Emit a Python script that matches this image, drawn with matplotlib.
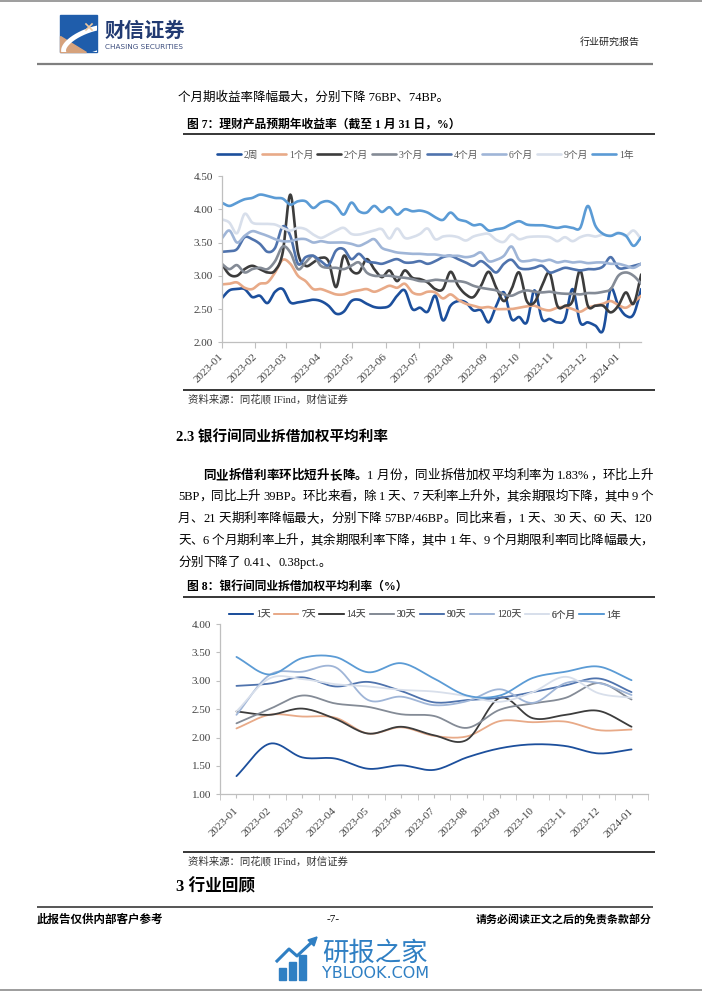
import numpy as np
import pandas as pd
import matplotlib
matplotlib.use('Agg')
import matplotlib.pyplot as plt
import matplotlib.dates as mdates
from matplotlib.ticker import FormatStrFormatter
from matplotlib.font_manager import FontProperties
from matplotlib.patches import Rectangle, Polygon

W, H = 702, 991
SERIF = ['Liberation Serif', 'Noto Sans CJK SC']
SANS = ['Noto Sans CJK SC', 'DejaVu Sans']
plt.rcParams['font.family'] = SERIF

# ---- figure 7: weekly wealth-product yields (%) ----
weeks = pd.date_range('2023-01-06', periods=56, freq='7D')
names7 = ['2周', '1个月', '2个月', '3个月', '4个月', '6个月', '9个月', '1年']
w2 = [2.66, 2.78, 2.80, 2.80, 2.68, 2.70, 2.59, 2.76, 2.80, 2.60, 2.60, 2.62, 2.64, 2.62, 2.55, 2.43,
      2.46, 2.62, 2.64, 2.58, 2.53, 2.52, 2.55, 2.70, 2.78, 2.50, 2.52, 2.46, 2.70, 2.33, 2.55, 2.62,
      2.60, 2.48, 2.48, 2.30, 2.55, 2.75, 2.35, 2.38, 2.30, 2.78, 2.35, 2.35, 2.30, 2.35, 2.80, 2.30,
      2.30, 2.25, 2.18, 2.80, 2.55, 2.40, 2.42, 2.80]
m1 = [2.87, 2.88, 2.90, 2.82, 2.80, 2.88, 2.90, 3.05, 3.24, 3.18, 3.00, 2.92, 2.80, 2.80, 2.76, 2.72,
      2.72, 2.76, 2.78, 2.80, 2.76, 2.80, 2.85, 2.82, 2.88, 2.75, 2.72, 2.76, 2.75, 2.66, 2.72, 2.64,
      2.58, 2.55, 2.52, 2.53, 2.50, 2.50, 2.50, 2.52, 2.54, 2.55, 2.50, 2.48, 2.52, 2.53, 2.50, 2.46,
      2.52, 2.55, 2.58, 2.62, 2.56, 2.52, 2.60, 2.70]
m2 = [3.18, 3.02, 3.00, 3.10, 3.15, 3.10, 3.05, 3.08, 3.35, 4.22, 3.35, 3.15, 3.20, 3.27, 3.22, 2.83,
      3.30, 3.08, 3.05, 3.25, 3.10, 2.98, 3.08, 2.92, 3.08, 2.97, 2.95, 2.90, 2.80, 2.80, 3.06, 2.85,
      2.72, 2.68, 2.85, 3.06, 2.82, 2.62, 2.80, 3.05, 2.62, 2.60, 2.85, 3.04, 2.55, 2.55, 2.62, 3.08,
      2.55, 2.55, 2.55, 2.45, 2.55, 2.75, 2.58, 3.02]
m3 = [3.18, 3.10, 3.16, 3.05, 3.10, 3.12, 3.10, 3.22, 3.44, 3.35, 3.10, 3.20, 3.30, 3.15, 3.12, 3.12,
      3.10, 3.15, 3.20, 3.05, 3.00, 3.00, 3.00, 2.98, 2.97, 2.95, 2.92, 2.92, 2.94, 2.93, 2.92, 2.92,
      2.90, 2.85, 2.82, 2.80, 2.78, 2.72, 2.70, 2.75, 2.78, 2.76, 2.75, 2.76, 2.74, 2.73, 2.73, 2.72,
      2.74, 2.74, 2.76, 2.80, 3.00, 3.05, 3.00, 2.88]
m4 = [3.36, 3.37, 3.40, 3.58, 3.55, 3.48, 3.36, 3.42, 3.74, 3.60, 3.18, 3.28, 3.30, 3.22, 3.16, 3.38,
      3.40, 3.25, 3.33, 3.22, 3.20, 3.18, 3.22, 3.25, 3.20, 3.20, 3.22, 3.18, 3.22, 3.28, 3.30, 3.25,
      3.20, 3.15, 3.22, 3.14, 3.05, 3.18, 3.24, 3.12, 3.10, 3.12, 3.15, 3.05, 3.08, 3.12, 3.10, 3.08,
      3.10, 3.10, 3.14, 3.28, 3.12, 3.12, 3.15, 3.18]
m6 = [3.56, 3.68, 3.50, 3.60, 3.67, 3.64, 3.60, 3.55, 3.52, 3.52, 3.55, 3.55, 3.50, 3.52, 3.50, 3.50,
      3.50, 3.48, 3.45, 3.50, 3.55, 3.42, 3.38, 3.35, 3.34, 3.33, 3.33, 3.32, 3.32, 3.30, 3.30, 3.30,
      3.28, 3.30, 3.35, 3.22, 3.24, 3.30, 3.44, 3.24, 3.22, 3.24, 3.22, 3.24, 3.20, 3.22, 3.20, 3.21,
      3.19, 3.20, 3.20, 3.18, 3.18, 3.15, 3.12, 3.18]
m9 = [3.85, 3.80, 3.64, 3.93, 3.80, 3.78, 3.78, 3.77, 3.72, 3.68, 3.72, 3.70, 3.62, 3.57, 3.62, 3.68,
      3.72, 3.63, 3.62, 3.65, 3.68, 3.70, 3.56, 3.71, 3.57, 3.58, 3.63, 3.71, 3.55, 3.59, 3.60, 3.58,
      3.53, 3.59, 3.62, 3.63, 3.54, 3.51, 3.62, 3.55, 3.58, 3.59, 3.59, 3.58, 3.52, 3.58, 3.52, 3.58,
      3.61, 3.59, 3.62, 3.60, 3.65, 3.60, 3.68, 3.55]
y1 = [4.10, 4.05, 4.10, 4.15, 4.17, 4.22, 4.20, 4.17, 4.16, 4.07, 4.12, 4.12, 4.02, 4.10, 4.12, 4.05,
      3.92, 4.10, 3.97, 3.95, 4.05, 3.96, 4.03, 3.92, 4.00, 3.97, 3.98, 3.95, 3.88, 3.84, 3.95, 3.85,
      3.82, 3.76, 3.77, 3.68, 3.70, 3.72, 3.78, 3.82, 3.77, 3.76, 3.76, 3.74, 3.72, 3.74, 3.72, 3.72,
      4.05, 3.75, 3.63, 3.60, 3.64, 3.60, 3.45, 3.58]

# ---- figure 8: monthly interbank weighted rates (%) ----
months8 = ['2023-01', '2023-02', '2023-03', '2023-04', '2023-05', '2023-06', '2023-07',
           '2023-08', '2023-09', '2023-10', '2023-11', '2023-12', '2024-01']
names8 = ['1天', '7天', '14天', '30天', '90天', '120天', '6个月', '1年']
d1 = [1.32, 1.89, 1.65, 1.63, 1.45, 1.51, 1.43, 1.65, 1.81, 1.88, 1.85, 1.72, 1.79]
d7 = [2.16, 2.40, 2.37, 2.35, 2.07, 2.18, 2.03, 2.02, 2.29, 2.27, 2.28, 2.13, 2.14]
d14 = [2.46, 2.40, 2.51, 2.33, 2.07, 2.19, 2.04, 1.96, 2.70, 2.34, 2.40, 2.47, 2.19]
d30 = [2.25, 2.50, 2.74, 2.60, 2.54, 2.41, 2.38, 2.17, 2.49, 2.60, 2.70, 2.96, 2.67]
d90 = [2.91, 2.95, 3.06, 2.90, 2.98, 2.82, 2.62, 2.66, 2.70, 2.80, 2.92, 3.04, 2.80]
d120 = [2.40, 3.10, 3.16, 3.24, 2.66, 2.72, 2.57, 2.64, 2.85, 2.61, 2.96, 2.96, 2.75]
d6m = [2.46, 3.04, 3.03, 2.94, 2.90, 2.84, 2.81, 2.73, 2.63, 2.80, 3.07, 2.78, 2.70]
d1y = [3.42, 3.11, 3.40, 3.42, 3.15, 3.31, 3.04, 2.74, 2.74, 3.05, 3.16, 3.25, 3.01]

colors = ['#1c4f9c', '#e8aa88', '#3c3c3c', '#848b96', '#4f73ad', '#9fb5d7', '#d8dfeb', '#5b9bd5']


def smooth(x, y, k=14):
    # catmull-rom, close to excel's "smoothed line"
    x = np.asarray(x, float)
    y = np.asarray(y, float)
    out = []
    for a in (x, y):
        p = np.r_[2 * a[0] - a[1], a, 2 * a[-1] - a[-2]]
        p0, p1, p2, p3 = p[:-3], p[1:-2], p[2:-1], p[3:]
        t = np.linspace(0, 1, k, endpoint=False)[:, None]
        q = 0.5 * (2 * p1 + (p2 - p0) * t + (2 * p0 - 5 * p1 + 4 * p2 - p3) * t ** 2
                   + (3 * p1 - p0 - 3 * p2 + p3) * t ** 3)
        out.append(np.r_[q.T.ravel(), a[-1]])
    return out


fig = plt.figure(figsize=(W / 100, H / 100), dpi=100)
page = fig.add_axes([0, 0, 1, 1])
page.set_xlim(0, W)
page.set_ylim(H, 0)
page.axis('off')
rend = fig.canvas.get_renderer()


def txt(x, y, s, size, ha='left', weight='normal', color='black', fam=SERIF):
    page.text(x, y, s, fontsize=size, ha=ha, va='center', fontweight=weight, color=color, family=fam)


def rule(y, x0, x1, lw=1.0, color='black'):
    page.plot([x0, x1], [y, y], color=color, lw=lw, solid_capstyle='butt')


def tokens(s):
    out, run = [], ''
    for ch in s:
        if ord(ch) < 128 and ch != ' ':
            run += ch
        else:
            if run:
                out.append(run)
                run = ''
            out.append(ch)
    if run:
        out.append(run)
    return out


def para_line(y, x0, x1, parts, size=9, justify=True):
    toks = []
    for s, w in parts:
        fp = FontProperties(family=SERIF, size=size, weight=w)
        for t in tokens(s):
            if t == ' ':
                wd = size * 0.25 * 100 / 72
            else:
                wd = rend.get_text_width_height_descent(t, fp, ismath=False)[0]
            toks.append((t, w, wd))
    gap = (x1 - x0 - sum(t[2] for t in toks)) / (len(toks) - 1) if justify else 0
    x = x0
    for t, w, wd in toks:
        if t != ' ':
            page.text(x, y, t, fontsize=size, fontweight=w, family=SERIF, va='center', ha='left')
        x += wd + gap


# ---- page header ----
rule(0.6, 0, W, lw=1.2, color='#8c8c8c')
logo = Rectangle((60, 15), 37, 37, color='#1f5dab')
page.add_patch(logo)
tan = Polygon([[60, 36], [60, 52], [86, 52]], color='#d6a27c')
page.add_patch(tan)
th = np.linspace(0, 2 * np.pi, 200)
ex = 92 + 30 * np.cos(th) * np.cos(-0.35) - 12 * np.sin(th) * np.sin(-0.35)
ey = 42 + 30 * np.cos(th) * np.sin(-0.35) + 12 * np.sin(th) * np.cos(-0.35)
sw, = page.plot(ex, ey, color='white', lw=3.5)
sw.set_clip_path(logo)
page.plot([86, 92], [24, 30], color='#f0c9a0', lw=1.2)
page.plot([86, 92], [30, 24], color='#f0c9a0', lw=1.2)
txt(105, 30, '财信证券', 14.5, weight='bold', color='#213a72', fam=SANS)
txt(105, 47, 'CHASING SECURITIES', 5.2, color='#3b4c7c', fam=['DejaVu Sans'])
txt(640, 42, '行业研究报告', 7.2, ha='right', color='#222222')
rule(64, 37, 653, lw=1.6, color='#7f7f7f')

txt(178, 97, '个月期收益率降幅最大，分别下降 76BP、74BP。', 9)

# ---- figure 7 ----
txt(187, 125, '图 7：理财产品预期年收益率（截至 1 月 31 日，%）', 8.5, weight='bold')
rule(134, 183, 655, lw=1.1)

ax1 = fig.add_axes([221.7 / W, 1 - 342.3 / H, 419.5 / W, 166.3 / H])
xs = mdates.date2num(weeks)
for vals, name, col in zip([w2, m1, m2, m3, m4, m6, m9, y1], names7, colors):
    sx, sy = smooth(xs, vals)
    ax1.plot(sx, sy, color=col, lw=1.9, label=name, solid_capstyle='round')
ax1.set_xlim(xs[0], xs[-1])
ax1.set_ylim(2, 4.5)
ax1.set_yticks(np.arange(2, 4.51, 0.5))
ax1.yaxis.set_major_formatter(FormatStrFormatter('%.2f'))
mticks = [weeks[0] + pd.DateOffset(months=m) for m in range(13)]
ax1.set_xticks(mdates.date2num(mticks))
ax1.set_xticklabels([d.strftime('%Y-%m') for d in mticks], rotation=45, ha='right',
                    va='center', rotation_mode='anchor')

ax2 = fig.add_axes([220 / W, 1 - 794.3 / H, 428 / W, 170.3 / H])
for vals, name, col in zip([d1, d7, d14, d30, d90, d120, d6m, d1y], names8, colors):
    sx, sy = smooth(np.arange(len(months8)), vals)
    ax2.plot(sx, sy, color=col, lw=1.3, label=name, solid_capstyle='round')
ax2.set_xlim(-0.5, len(months8) - 0.5)
ax2.set_ylim(1, 4)
ax2.set_yticks(np.arange(1, 4.01, 0.5))
ax2.yaxis.set_major_formatter(FormatStrFormatter('%.2f'))
ax2.set_xticks(np.arange(len(months8)))
ax2.set_xticklabels(months8, rotation=45, ha='right', va='center', rotation_mode='anchor')
ax2.set_xticks(np.arange(-0.5, len(months8)), minor=True)
ax2.tick_params(axis='x', which='major', length=0, pad=8)
ax2.tick_params(axis='x', which='minor', length=4, color='#bfbfbf')

for ax in (ax1, ax2):
    ax.patch.set_alpha(0)
    for s in ('top', 'right'):
        ax.spines[s].set_visible(False)
    for s in ('left', 'bottom'):
        ax.spines[s].set_color('#bfbfbf')
        ax.spines[s].set_linewidth(0.9)
    ax.tick_params(labelsize=8, labelcolor='#404040', color='#bfbfbf', length=3)
ax1.tick_params(axis='x', length=4, pad=5)

legfont = FontProperties(family=SERIF, size=7)
for ax, ly, lw in ((ax1, 155, 1.9), (ax2, 615, 1.3)):
    h, l = ax.get_legend_handles_labels()
    lg = page.legend(h, l, loc='center', bbox_to_anchor=(425, ly), bbox_transform=page.transData,
                     ncol=8, frameon=False, prop=legfont, handlelength=2.5, handletextpad=0.3,
                     columnspacing=0.35, borderpad=0)
    for t in lg.get_texts():
        t.set_color('#595959')
    page.add_artist(lg)

rule(390, 183, 655, lw=1.1)
txt(188, 399, '资料来源：同花顺 IFind，财信证券', 7.5, color='#333333')

# ---- section 2.3 ----
txt(176, 437, '2.3 银行间同业拆借加权平均利率', 10.5, weight='bold')
para_line(476, 203, 653, [('同业拆借利率环比短升长降。', 'bold'),
                          ('1 月份，同业拆借加权平均利率为 1.83%，环比上升', 'normal')])
para_line(497, 178, 653, [('5BP，同比上升 39BP。环比来看，除 1 天、7 天利率上升外，其余期限均下降，其中 9 个', 'normal')])
para_line(519, 178, 653, [('月、21 天期利率降幅最大，分别下降 57BP/46BP。同比来看，1 天、30 天、60 天、120', 'normal')])
para_line(541, 178, 653, [('天、6 个月期利率上升，其余期限利率下降，其中 1 年、9 个月期限利率同比降幅最大，', 'normal')])
para_line(563, 178, 653, [('分别下降了 0.41、0.38pct.。', 'normal')], justify=False)

# ---- figure 8 ----
txt(187, 587, '图 8：银行间同业拆借加权平均利率（%）', 8.5, weight='bold')
rule(597, 183, 655, lw=1.1)
rule(852, 183, 655, lw=1.1)
txt(188, 861, '资料来源：同花顺 IFind，财信证券', 7.5, color='#333333')

txt(176, 887, '3 行业回顾', 12, weight='bold')

# ---- footer ----
rule(907, 37, 653, lw=1.4, color='#555555')
txt(37, 920, '此报告仅供内部客户参考', 8.3, weight='bold')
txt(333, 920, '-7-', 8, ha='center')
txt(652, 920, '请务必阅读正文之后的免责条款部分', 7.9, ha='right', weight='bold')

blue = '#2f7fc3'
for bx, bh in ((279, 12), (289, 18), (299, 25)):
    page.add_patch(Rectangle((bx, 980 - bh), 7, bh, color=blue))
page.plot([277, 289, 297, 313], [961, 949, 956, 941], color=blue, lw=2.2)
page.add_patch(Polygon([[308, 940], [317, 937], [314, 946]], color=blue))
txt(322, 953, '研报之家', 19, color=blue, fam=SANS)
txt(322, 974, 'YBLOOK.COM', 11.5, color=blue, fam=['DejaVu Sans'])
rule(989.5, 0, W, lw=1.2, color='#8c8c8c')

fig.savefig('out.png', dpi=100)
